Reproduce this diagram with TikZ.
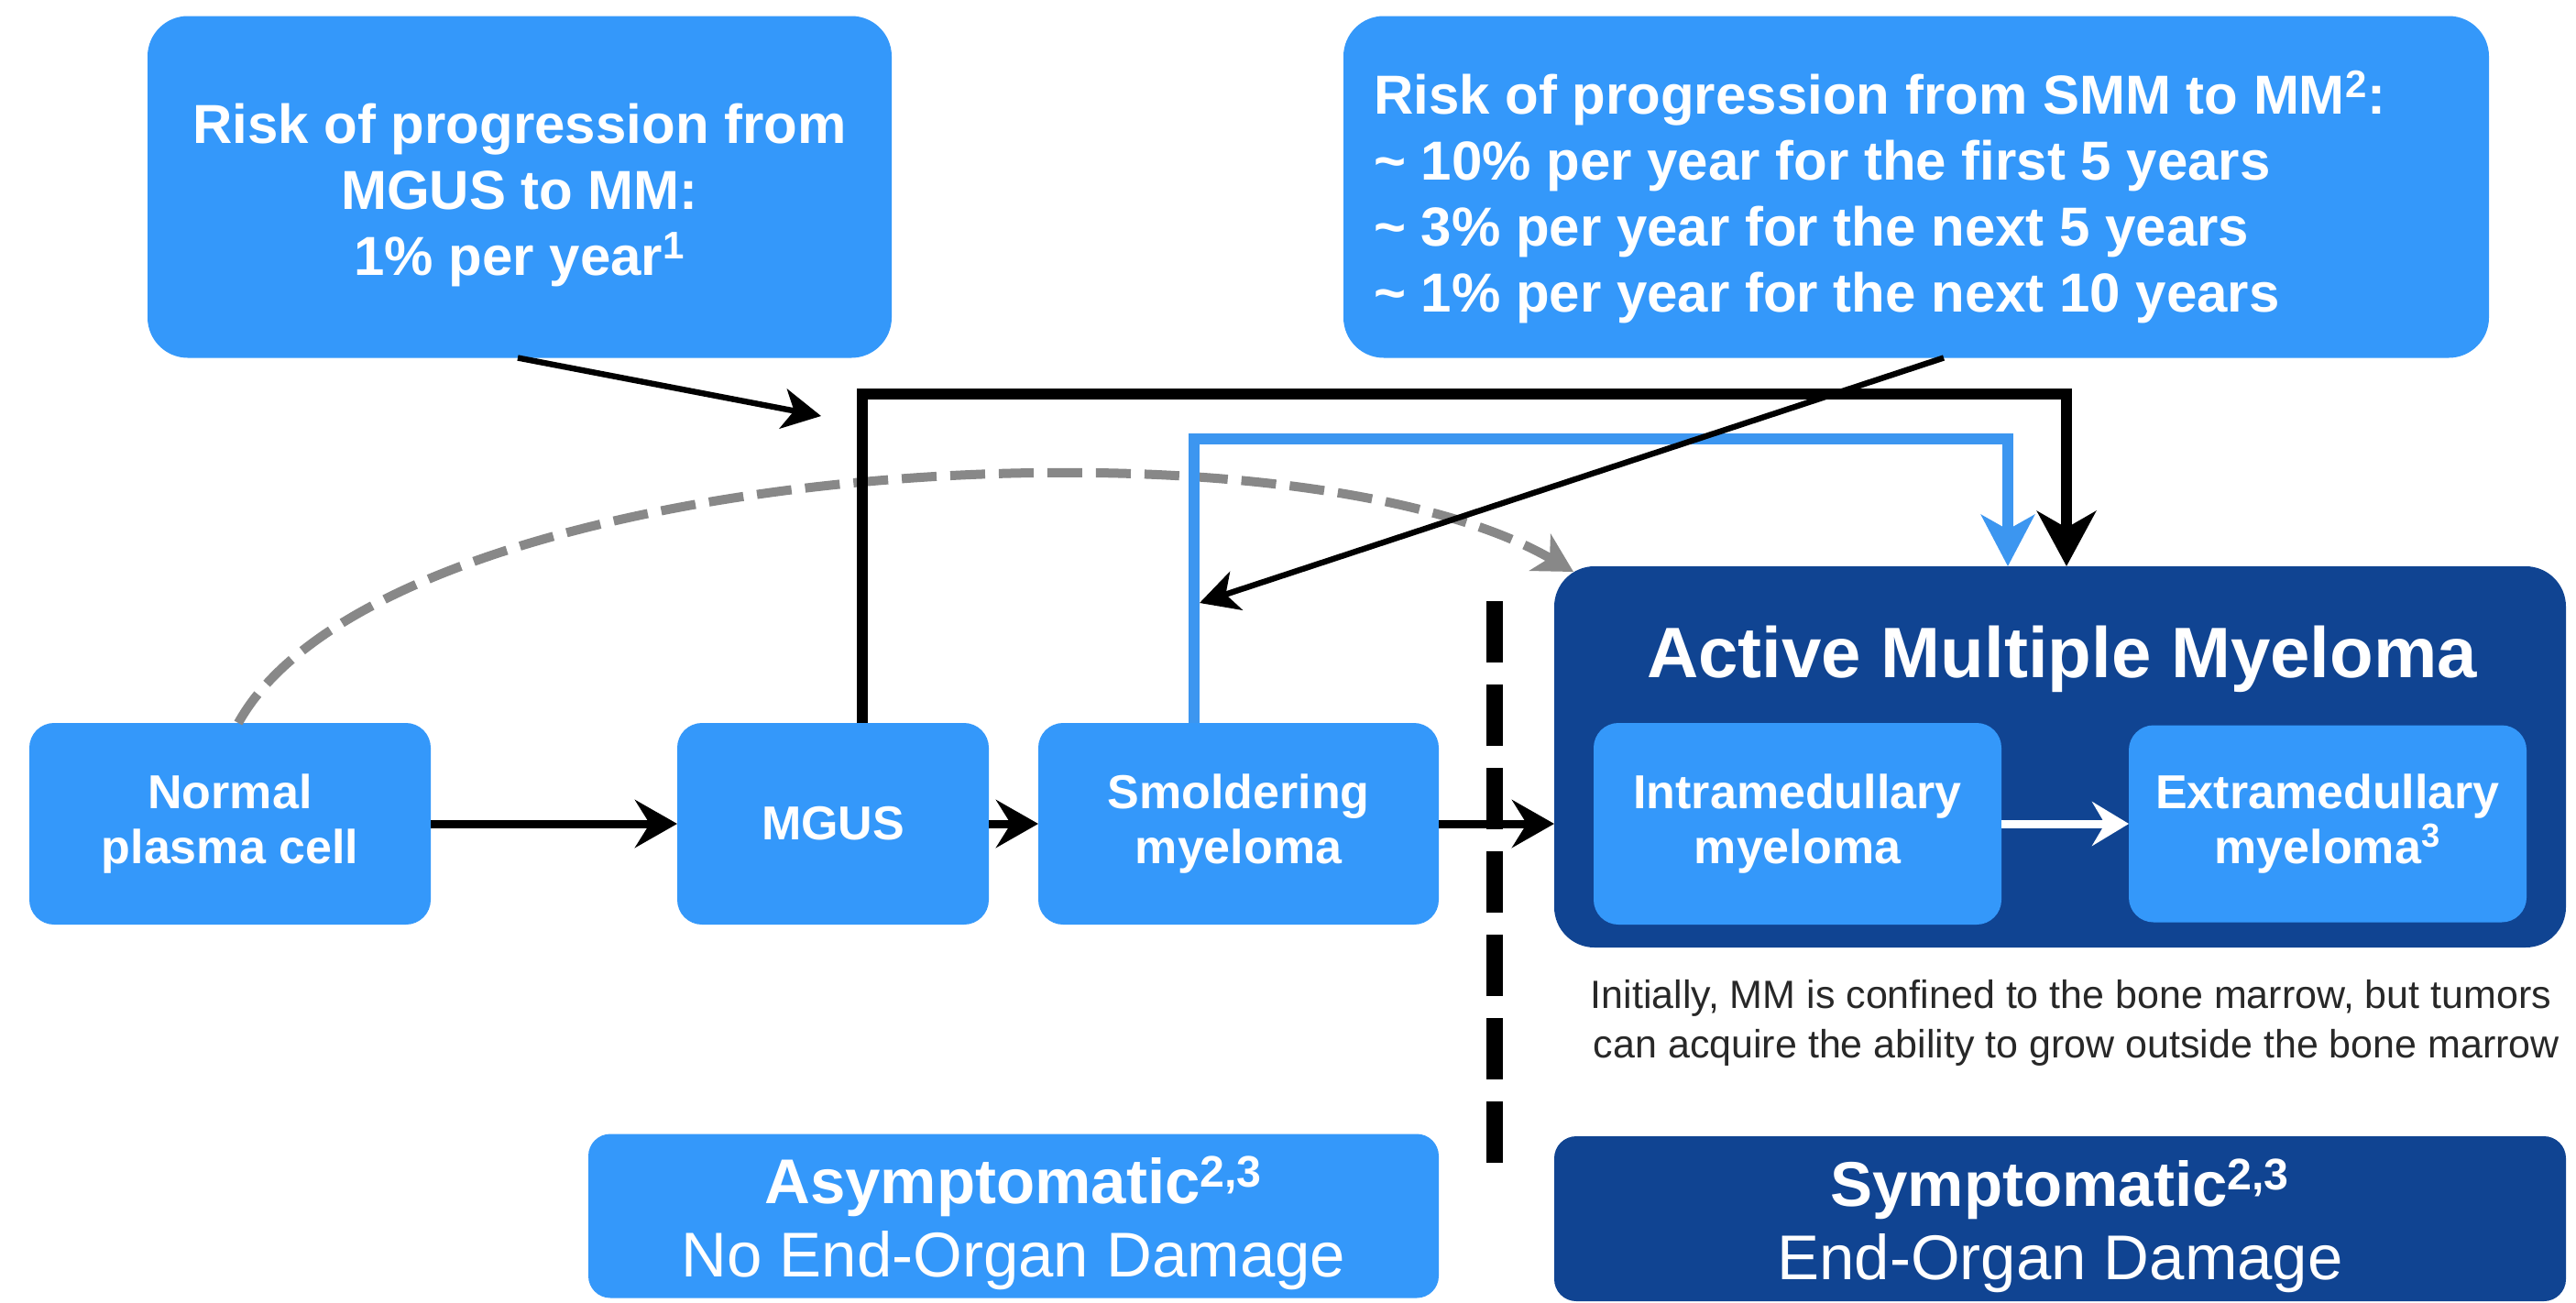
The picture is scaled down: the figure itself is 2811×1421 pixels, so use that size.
\documentclass[tikz,border=0pt]{standalone}
\usepackage{fontspec}
\setmainfont{Liberation Sans}
\usetikzlibrary{arrows.meta}
\definecolor{lblue}{RGB}{52,152,250}
\definecolor{dblue}{RGB}{16,68,146}
\definecolor{lineblue}{RGB}{60,150,240}
\definecolor{dgray}{RGB}{136,136,136}
\definecolor{captgray}{RGB}{40,40,40}
\begin{document}
\begin{tikzpicture}[x=0.5pt,y=-0.5pt,
  every node/.style={inner sep=0pt, outer sep=0pt},
  cellbox/.style={fill=lblue, rounded corners=13.5pt, text=white, align=center,
    font=\bfseries\fontsize{26}{30}\selectfont, minimum height=110pt},
  riskbox/.style={fill=lblue, rounded corners=22pt, minimum height=186.5pt},
  risktext/.style={text=white, font=\bfseries\fontsize{30}{36}\selectfont},
  statebox/.style={rounded corners=12pt},
  statetext/.style={text=white, align=center, font=\fontsize{34.5}{40}\selectfont},
  mainarrow/.style={line width=4.5pt, -{Stealth[length=23pt,width=26pt,inset=8pt]}},
  bracketarrow/.style={line width=6pt, -{Stealth[length=30pt,width=32pt,inset=9pt]}},
  blueconn/.style={draw=lineblue, line width=6pt, -{Stealth[length=28pt,width=29pt,inset=8pt]}},
  callout/.style={line width=3.2pt, -{Stealth[length=21pt,width=22pt,inset=6pt]}},
  grayconn/.style={draw=dgray, line width=5pt, dash pattern=on 19pt off 7.5pt,
    -{Stealth[length=21pt,width=23pt,inset=6pt]}},
  whitearrow/.style={draw=white, line width=4.5pt, -{Stealth[length=20pt,width=24pt,inset=7pt]}}
]
\fill[white] (0,0) rectangle (2811,1421);
\useasboundingbox (0,0) rectangle (2811,1421);

% risk boxes
\node[riskbox, minimum width=406pt] (risk1) at (567,204) {};
\node[risktext, align=center] (risk1text) at ([yshift=-4.5pt]risk1.center)
  {Risk of progression from\\MGUS to MM:\\1\% per year\textsuperscript{1}};
\node[riskbox, minimum width=625pt] (risk2) at (2091,204) {};
\node[risktext, align=left, anchor=west] (risk2text) at ([xshift=16.5pt,yshift=-5.5pt]risk2.west)
  {Risk of progression from SMM to MM\textsuperscript{2}:\\
   \textasciitilde\ 10\% per year for the first 5 years\\
   \textasciitilde\ 3\% per year for the next 5 years\\
   \textasciitilde\ 1\% per year for the next 10 years};

% stage boxes
\node[cellbox, minimum width=219pt] (normal) at (251,899) {Normal\\plasma cell};
\node[cellbox, minimum width=170pt] (mgus) at (909,899) {MGUS};
\node[cellbox, minimum width=218.5pt] (smold) at (1351.5,899) {Smoldering\\myeloma};

% active MM
\node[fill=dblue, rounded corners=22pt, minimum width=552pt, minimum height=208pt] (active) at (2248,826) {};
\node[text=white, font=\bfseries\fontsize{39}{44}\selectfont] (title) at (2250,719) {Active Multiple Myeloma};
\node[cellbox, minimum width=222.5pt] (intra) at (1961.5,899) {Intramedullary\\myeloma};
\node[cellbox, minimum width=217pt, minimum height=107.5pt] (extra) at (2540,899) {Extramedullary\\myeloma\textsuperscript{3}};

% caption
\node[text=captgray, align=center, font=\fontsize{21.5}{27}\selectfont] (caption) at (2260,1116)
  {Initially, MM is confined to the bone marrow, but tumors\\
   \ can acquire the ability to grow outside the bone marrow};

% bottom state boxes
\node[statebox, fill=lblue, minimum width=464pt, minimum height=89.5pt] (asym) at (1106,1327) {};
\node[statetext] (asymtext) at ([yshift=-4pt]asym.center)
  {{\bfseries Asymptomatic\textsuperscript{2,3}}\\No End-Organ Damage};
\node[statebox, fill=dblue, minimum width=552pt, minimum height=90pt] (sym) at (2248,1330) {};
\node[statetext] (symtext) at ([yshift=-4pt]sym.center)
  {{\bfseries Symptomatic\textsuperscript{2,3}}\\End-Organ Damage};

% vertical dashed divider
\draw[line width=9pt, dash pattern=on 33.5pt off 12pt] (1631,656) -- (1631,1272);

% coordinates
\coordinate (kb) at (2255,430);
\coordinate (kbl) at (2191,479);
\coordinate (c1) at (896,454);
\coordinate (c2) at (1309,658);
\coordinate (g1) at (1717,624);

% gray dashed curve
\draw[grayconn] ([xshift=4.5pt]normal.north) .. controls (420,500) and (1400,440) .. (g1);

% brackets
\draw[blueconn] ([xshift=-24.25pt]smold.north) |- (kbl) -- ([xshift=-28.5pt]active.north);
\draw[bracketarrow] ([xshift=16pt]mgus.north) |- (kb) -- ([xshift=3.5pt]active.north);

% callout arrows
\draw[callout] ([xshift=-1pt]risk1.south) -- (c1);
\draw[callout] ([xshift=15pt]risk2.south) -- (c2);

% main flow
\draw[mainarrow] (normal.east) -- (mgus.west);
\draw[mainarrow] (mgus.east) -- (smold.west);
\draw[mainarrow] (smold.east) -- (smold.east -| active.west);
\draw[whitearrow] (intra.east) -- (intra.east -| extra.west);
\end{tikzpicture}
\end{document}
